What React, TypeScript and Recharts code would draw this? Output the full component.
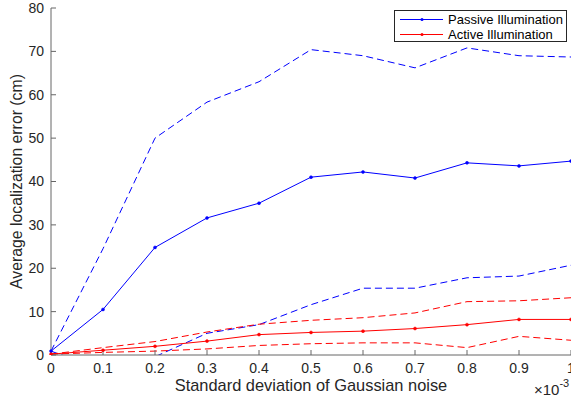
import React from 'react';
import { LineChart, Line, XAxis, YAxis, Label } from 'recharts';

const noise = [0, 0.1, 0.2, 0.3, 0.4, 0.5, 0.6, 0.7, 0.8, 0.9, 1];
const passiveMean = [0.9, 10.5, 24.8, 31.6, 35.0, 41.0, 42.2, 40.8, 44.3, 43.6, 44.7];
const passiveUpper = [0.9, 24.5, 50.0, 58.3, 63.0, 70.4, 69.0, 66.2, 70.8, 69.0, 68.7];
const passiveLower = [0.9, -3.5, -0.4, 5.0, 7.0, 11.6, 15.4, 15.4, 17.8, 18.2, 20.7];
const activeMean = [0.2, 1.1, 2.0, 3.2, 4.7, 5.2, 5.5, 6.1, 7.0, 8.2, 8.2];
const activeUpper = [0.2, 1.7, 3.1, 5.3, 7.1, 8.0, 8.6, 9.7, 12.3, 12.5, 13.2];
const activeLower = [0.2, 0.6, 0.9, 1.4, 2.2, 2.6, 2.8, 2.8, 1.7, 4.3, 3.4];
const yTicks = [0, 10, 20, 30, 40, 50, 60, 70, 80];
const seriesNames = ['Passive Illumination', 'Active Illumination'];

const data = noise.map((x, i) => ({
  x,
  pm: passiveMean[i],
  pu: passiveUpper[i],
  pl: passiveLower[i],
  am: activeMean[i],
  au: activeUpper[i],
  al: activeLower[i],
}));

const FONT = '"Liberation Sans", Arial, Helvetica, sans-serif';
const TXT = '#262626';
const BLUE = '#0000ff';
const RED = '#ff0000';

const LegendBox = () => (
  <div
    style={{
      position: 'absolute',
      left: 394,
      top: 10,
      border: '1px solid #262626',
      background: '#fff',
      width: 173,
      height: 32,
      boxSizing: 'border-box',
      fontFamily: FONT,
      fontSize: 13,
      color: '#000',
      paddingTop: 1,
    }}
  >
    {seriesNames.map((name, i) => (
      <div key={name} style={{ display: 'flex', alignItems: 'center', height: 15 }}>
        <svg width={53} height={15} style={{ flex: 'none' }}>
          <line x1={5} x2={48} y1={7.5} y2={7.5} stroke={i === 0 ? BLUE : RED} strokeWidth={1} />
          <circle cx={27} cy={7.5} r={1.5} fill={i === 0 ? BLUE : RED} />
        </svg>
        <span style={{ lineHeight: '15px', whiteSpace: 'nowrap' }}>{name}</span>
      </div>
    ))}
  </div>
);

const XLabel = (props: any) => {
  const vb = props.viewBox;
  return (
    <g fontFamily={FONT} fill={TXT}>
      <text x={vb.x + vb.width / 2} y={vb.y + 36} fontSize={16.4} textAnchor="middle">
        Standard deviation of Gaussian noise
      </text>
      <text x={vb.x + vb.width - 37} y={vb.y + 40} fontSize={15}>
        ×10
        <tspan dy={-8} fontSize={11}>-3</tspan>
      </text>
    </g>
  );
};

const YLabel = (props: any) => {
  const vb = props.viewBox;
  const cy = vb.y + vb.height / 2;
  return (
    <text
      x={22}
      y={cy}
      transform={`rotate(-90, 22, ${cy})`}
      fontFamily={FONT}
      fontSize={15.8}
      fill={TXT}
      textAnchor="middle"
    >
      Average localization error (cm)
    </text>
  );
};

export default function App() {
  return (
    <div style={{ position: 'absolute', left: 0, top: 0, background: '#fff', width: 571, height: 400 }}>
      <LineChart
        width={571}
        height={400}
        data={data}
        margin={{ top: 8, right: 0, bottom: 0, left: 0 }}
        style={{ fontFamily: FONT }}
      >
        <XAxis
          dataKey="x"
          type="number"
          domain={[0, 1]}
          ticks={noise}
          interval={0}
          height={45}
          tickSize={-5}
          tickMargin={13}
          axisLine={{ stroke: '#666', strokeWidth: 1 }}
          tickLine={{ stroke: '#666', strokeWidth: 1 }}
          tick={{ fontSize: 14, fill: TXT, fontFamily: FONT }}
          tickFormatter={(v: number) => String(v)}
        >
          <Label content={XLabel} />
        </XAxis>
        <YAxis
          type="number"
          domain={[0, 80]}
          ticks={yTicks}
          interval={0}
          allowDataOverflow
          width={51}
          tickSize={-5}
          tickMargin={12}
          axisLine={{ stroke: '#666', strokeWidth: 1 }}
          tickLine={{ stroke: '#666', strokeWidth: 1 }}
          tick={{ fontSize: 14, fill: TXT, fontFamily: FONT }}
        >
          <Label content={YLabel} />
        </YAxis>
        <Line dataKey="pu" stroke={BLUE} strokeWidth={1} strokeDasharray="7 4" dot={false} isAnimationActive={false} />
        <Line dataKey="pl" stroke={BLUE} strokeWidth={1} strokeDasharray="7 4" dot={false} isAnimationActive={false} />
        <Line dataKey="au" stroke={RED} strokeWidth={1} strokeDasharray="7 4" dot={false} isAnimationActive={false} />
        <Line dataKey="al" stroke={RED} strokeWidth={1} strokeDasharray="7 4" dot={false} isAnimationActive={false} />
        <Line dataKey="pm" name={seriesNames[0]} stroke={BLUE} strokeWidth={1} dot={{ r: 1.5, fill: BLUE, stroke: BLUE, strokeWidth: 0.5 }} isAnimationActive={false} />
        <Line dataKey="am" name={seriesNames[1]} stroke={RED} strokeWidth={1} dot={{ r: 1.5, fill: RED, stroke: RED, strokeWidth: 0.5 }} isAnimationActive={false} />
      </LineChart>
      <LegendBox />
    </div>
  );
}
